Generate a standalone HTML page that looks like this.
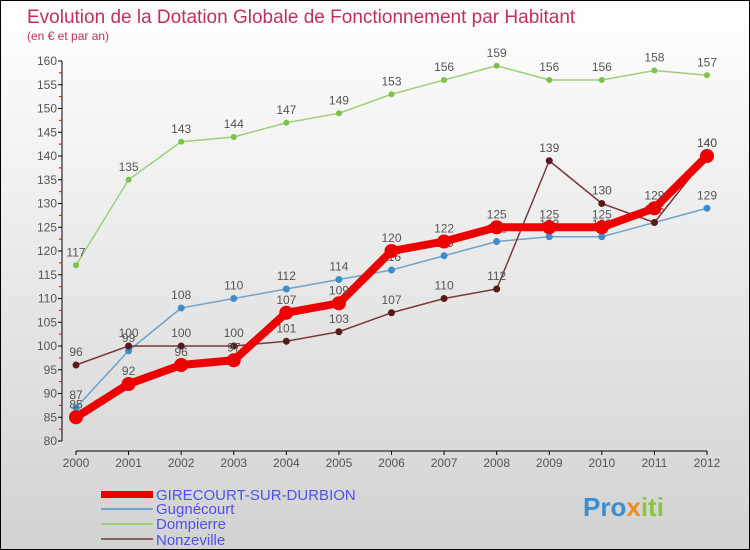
<!DOCTYPE html>
<html><head><meta charset="utf-8"><style>
body{margin:0;}
#wrap{position:relative;width:748px;height:548px;border:1px solid #000;background:linear-gradient(#ffffff,#d2d2d2);font-family:"Liberation Sans",sans-serif;overflow:hidden}
</style></head><body>
<div id="wrap">
<svg id="chart" width="748" height="548" font-family="Liberation Sans, sans-serif">
<text x="26" y="22" font-size="19" fill="#c0305a">Evolution de la Dotation Globale de Fonctionnement par Habitant</text>
<text x="26" y="39" font-size="12" fill="#c0305a">(en € et par an)</text>
<g id="axes"></g><g id="series"></g>
<g>
<rect x="100" y="490" width="52" height="7" fill="#e00"/>
<text x="155" y="499" font-size="15" fill="#5050ee">GIRECOURT-SUR-DURBION</text>
<rect x="100" y="507" width="52" height="2" fill="#6fa3cc"/>
<text x="155" y="513" font-size="15" fill="#5050ee">Gugnécourt</text>
<rect x="100" y="522" width="52" height="2" fill="#9ed07a"/>
<text x="155" y="528" font-size="15" fill="#5050ee">Dompierre</text>
<rect x="100" y="537" width="52" height="2" fill="#8a6060"/>
<text x="155" y="544" font-size="15" fill="#5050ee">Nonzeville</text>
</g>
<text x="582" y="515" font-size="26" font-weight="bold" fill="#3a8fd0">Pro<tspan fill="#f08a1c">x</tspan><tspan fill="#8cc63f">iti</tspan></text>
</svg>
</div>
<script>
const years=[2000,2001,2002,2003,2004,2005,2006,2007,2008,2009,2010,2011,2012];
const yTicks=[80,85,90,95,100,105,110,115,120,125,130,135,140,145,150,155,160];
const girecourt=[85,92,96,97,107,109,120,122,125,125,125,129,140];
const gugnecourt=[87,99,108,110,112,114,116,119,122,123,123,126,129];
const dompierre=[117,135,143,144,147,149,153,156,159,156,156,158,157];
const nonzeville=[96,100,100,100,101,103,107,110,112,139,130,126,140];
const NS="http://www.w3.org/2000/svg";
function xs(i){return 75+i*(631/(years.length-1));}
function ys(v){return 440-(v-80)*4.75;}
function mk(tag,attrs,parent){const e=document.createElementNS(NS,tag);for(const k in attrs)e.setAttribute(k,attrs[k]);parent.appendChild(e);return e;}
const axes=document.getElementById('axes');
let a=mk('line',{x1:61,y1:ys(160),x2:61,y2:ys(80),stroke:'#000'},axes);


a=mk('line',{x1:xs(0),y1:450,x2:xs(12),y2:450,stroke:'#000'},axes);


yTicks.forEach((t,i)=>{
  mk('line',{x1:57,y1:ys(t),x2:61,y2:ys(t),stroke:'#000'},axes);
  if(i<yTicks.length-1)mk('line',{x1:58,y1:ys(t+2.5),x2:61,y2:ys(t+2.5),stroke:'#e00'},axes);
  const tx=mk('text',{x:56,y:ys(t)+4,'font-size':12,fill:'#555','text-anchor':'end'},axes);
  tx.textContent=t;
  
  
});
years.forEach((y,i)=>{
  mk('line',{x1:xs(i),y1:450,x2:xs(i),y2:454,stroke:'#000'},axes);
  const tx=mk('text',{x:xs(i),y:466,'font-size':12,fill:'#555','text-anchor':'middle'},axes);
  tx.textContent=y;
  
  
});
const ser=document.getElementById('series');
function draw(vals,name,color,w,r,dot){
  const g=mk('g',{},ser);
  
  
  const pl=mk('polyline',{points:vals.map((v,i)=>xs(i)+','+ys(v)).join(' '),fill:'none',stroke:color,'stroke-width':w,'stroke-linejoin':'round'},g);
  
  
  vals.forEach((v,i)=>{
    const c=mk('circle',{cx:xs(i),cy:ys(v),r:r,fill:dot},g);
    
    
    const t=mk('text',{x:xs(i),y:ys(v)-9,'font-size':12,fill:'#555','text-anchor':'middle'},g);
    t.textContent=v;
    
    
  });
}
draw(dompierre,'dompierre','#9ed07a',1.5,3,'#7dc24a');
draw(gugnecourt,'gugnecourt','#6fa3cc',1.5,3.5,'#3d8ccc');
draw(nonzeville,'nonzeville','#7a3a3a',1.5,3.5,'#5a1a1a');
draw(girecourt,'girecourt','#ee0000',8,7,'#ee0000');
</script>
</body></html>
